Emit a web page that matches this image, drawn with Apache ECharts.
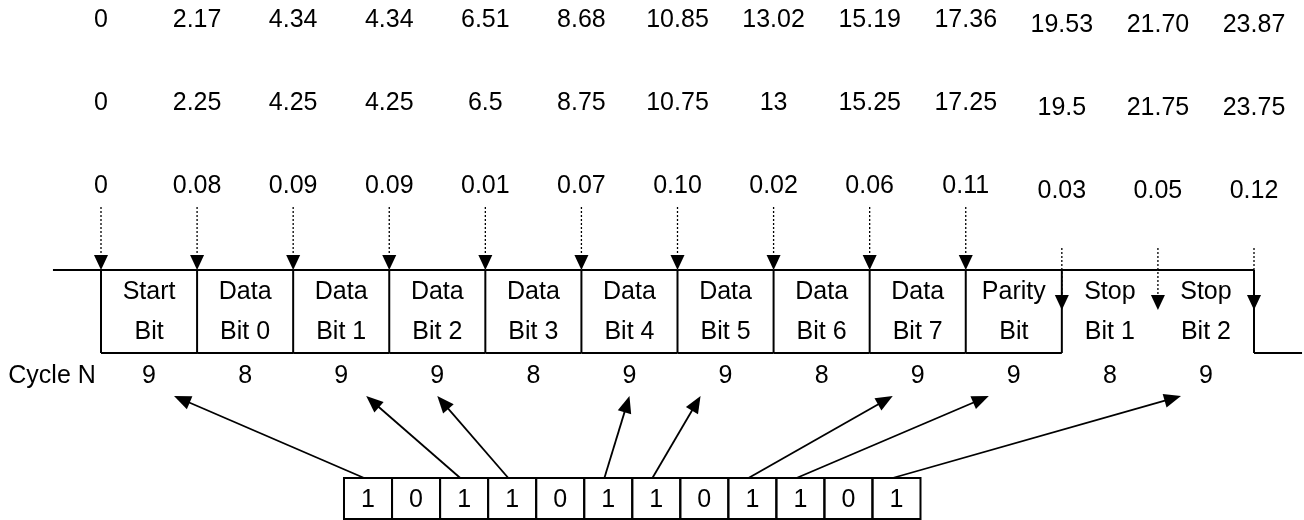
<!DOCTYPE html>
<html><head><meta charset="utf-8">
<script src="https://cdn.jsdelivr.net/npm/echarts@6/dist/echarts.min.js"></script>
<style>html,body{margin:0;padding:0;background:#fff}#c{width:1304px;height:520px}</style>
</head><body><div id="c"></div>
<script>
// ---------- data ----------
const idealTimes  = ['0','2.17','4.34','4.34','6.51','8.68','10.85','13.02','15.19','17.36','19.53','21.70','23.87'];
const actualTimes = ['0','2.25','4.25','4.25','6.5','8.75','10.75','13','15.25','17.25','19.5','21.75','23.75'];
const timeErrors  = ['0','0.08','0.09','0.09','0.01','0.07','0.10','0.02','0.06','0.11','0.03','0.05','0.12'];
const bitNames = [['Start','Bit'],['Data','Bit 0'],['Data','Bit 1'],['Data','Bit 2'],['Data','Bit 3'],['Data','Bit 4'],
                  ['Data','Bit 5'],['Data','Bit 6'],['Data','Bit 7'],['Parity','Bit'],['Stop','Bit 1'],['Stop','Bit 2']];
const cycleN = [9,8,9,9,8,9,9,8,9,9,8,9];
const bitPattern = [1,0,1,1,0,1,1,0,1,1,0,1];
const cycleLabel = 'Cycle N';

// ---------- layout ----------
const FONT = '25px "Liberation Sans", Arial, sans-serif';
const Y = {row1:20,row2:103,row3:186,stopDrop:5,dotTop:207,top:270,bottom:353,text1:292,text2:332,
           stopDotTop:248,stopTip:310,cycle:376,arrowTip:396,bitTop:478,bitBottom:519,bitText:500};
const BIT_START = 2.529, BIT_W = 0.5;
const firstStop = bitNames.findIndex(n => n[0] === 'Stop');
const INK = '#000';

function txt(x, y, s, align) {
  return {type:'text', x:x, y:y, style:{text:s, font:FONT, fill:INK, align:align||'center', verticalAlign:'middle'}};
}
function seg(p, q, extra) {
  return {type:'line', shape:{x1:p[0],y1:p[1],x2:q[0],y2:q[1]}, style:Object.assign({stroke:INK,lineWidth:2}, extra||{})};
}
function head(from, tip, L, W) {
  const dx = tip[0]-from[0], dy = tip[1]-from[1], d = Math.hypot(dx,dy);
  const ux = dx/d, uy = dy/d, bx = tip[0]-ux*L, by = tip[1]-uy*L;
  return {type:'polygon', shape:{points:[tip,[bx-uy*W/2,by+ux*W/2],[bx+uy*W/2,by-ux*W/2]]}, style:{fill:INK}};
}

const chart = echarts.init(document.getElementById('c'), null, {renderer:'canvas'});
chart.setOption({
  animation:false,
  grid:{left:101,right:50,top:0,bottom:0},
  xAxis:{type:'value',min:0,max:12,show:false},
  yAxis:{type:'value',min:0,max:520,inverse:true,show:false},
  series:[
    { // frame of the UART bits
      type:'custom', silent:true, clip:false,
      data: bitNames.map((n,i)=>[i]),
      renderItem(params, api){
        const i = api.value(0), n = bitNames[i];
        const isStop = n[0]==='Stop';
        const L = a=>api.coord(a);
        const ch = [];
        ch.push(seg(L([i,Y.top]), L([i+1,Y.top])));
        if (!isStop) {
          ch.push(seg(L([i,Y.bottom]), L([i+1,Y.bottom])));
          ch.push(seg(L([i,Y.top]), L([i,Y.bottom])));
        } else if (i === firstStop) {
          ch.push(seg(L([i,Y.top]), L([i,Y.bottom])));
        }
        if (i === bitNames.length-1) {
          ch.push(seg(L([i+1,Y.top]), L([i+1,Y.bottom])));
          ch.push(seg(L([i+1,Y.bottom]), L([i+1.5,Y.bottom])));
        }
        if (i === 0) ch.push(seg(L([-0.5,Y.top]), L([0,Y.top])));
        const c1 = L([i+0.5,Y.text1]), c2 = L([i+0.5,Y.text2]);
        ch.push(txt(c1[0],c1[1],n[0]), txt(c2[0],c2[1],n[1]));
        return {type:'group', children:ch};
      }
    },
    { // sampling edges: three rows of numbers and dotted arrows
      type:'custom', silent:true, clip:false,
      data: idealTimes.map((t,i)=>[i]),
      renderItem(params, api){
        const i = api.value(0), stop = i >= firstStop;
        const dy = stop ? Y.stopDrop : 0;
        const ch = [];
        const r1 = api.coord([i,Y.row1+dy]), r2 = api.coord([i,Y.row2+dy]), r3 = api.coord([i,Y.row3+dy]);
        ch.push(txt(r1[0],r1[1],idealTimes[i]), txt(r2[0],r2[1],actualTimes[i]), txt(r3[0],r3[1],timeErrors[i]));
        const topY = stop ? Y.stopDotTop : Y.dotTop, tipY = stop ? Y.stopTip : Y.top;
        const a = api.coord([i,topY]), tip = api.coord([i,tipY]);
        ch.push(seg(a,[tip[0],tip[1]-15],{lineWidth:1.3,lineDash:[2,2]}));
        ch.push(head(a, tip, 15, 14));
        return {type:'group', children:ch};
      }
    },
    { // cycle counts
      type:'custom', silent:true, clip:false,
      data: cycleN.map((v,i)=>[i+0.5, v]),
      renderItem(params, api){
        const p = api.coord([api.value(0), Y.cycle]);
        const ch = [txt(p[0],p[1],String(api.value(1)))];
        if (params.dataIndex === 0) {
          const q = api.coord([-0.965, Y.cycle]);
          ch.push(txt(q[0],q[1],cycleLabel,'left'));
        }
        return {type:'group', children:ch};
      }
    },
    { // bit pattern cells
      type:'custom', silent:true, clip:false,
      data: bitPattern.map((b,j)=>[j,b]),
      renderItem(params, api){
        const j = api.value(0);
        const p0 = api.coord([BIT_START+j*BIT_W, Y.bitTop]), p1 = api.coord([BIT_START+(j+1)*BIT_W, Y.bitBottom]);
        const c = api.coord([BIT_START+(j+0.5)*BIT_W, Y.bitText]);
        return {type:'group', children:[
          {type:'rect', shape:{x:p0[0],y:p0[1],width:p1[0]-p0[0],height:p1[1]-p0[1]}, style:{fill:'none',stroke:INK,lineWidth:2}},
          txt(c[0],c[1],String(api.value(1)))
        ]};
      }
    },
    { // arrows from each 1-bit to its 9-cycle count
      type:'custom', silent:true, clip:false,
      data: bitPattern.map((b,j)=>[j,b]).filter(d=>d[1]===1),
      renderItem(params, api){
        const j = api.value(0);
        const tailX = BIT_START + j*BIT_W + 0.21, center = j + 0.5;
        const diff = tailX - center;
        const lean = diff > 0.8 ? 1 : (diff < -0.5 ? -1 : 0);
        const tail = api.coord([tailX, Y.bitTop]);
        const tip = api.coord([center + lean*0.26, Y.arrowTip]);
        const dx = tip[0]-tail[0], dy = tip[1]-tail[1], d = Math.hypot(dx,dy);
        const end = [tip[0]-dx/d*14, tip[1]-dy/d*14];
        return {type:'group', children:[seg(tail,end,{lineWidth:1.8}), head(tail, tip, 17, 14)]};
      }
    }
  ]
});
</script>
</body></html>
